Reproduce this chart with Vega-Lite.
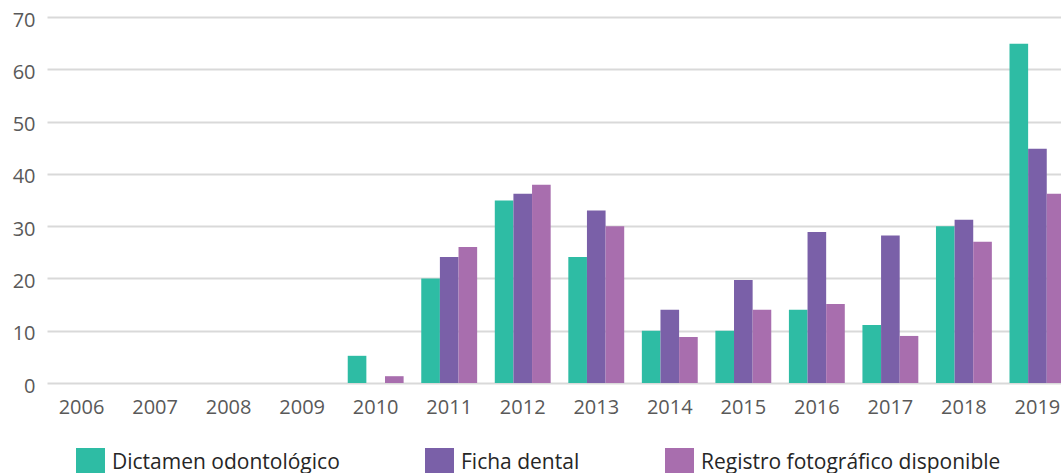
{
  "$schema": "https://vega.github.io/schema/vega-lite/v6.json",
  "autosize": {"type": "none"},
  "padding": {"left": 47, "top": 17, "right": 18, "bottom": 90},
  "width": 996,
  "height": 366,
  "background": "white",
  "config": {
    "view": {"stroke": null},
    "font": "Open Sans"
  },
  "data": {
    "values": [
      {"year": "2006", "serie": "Dictamen odontológico", "value": 0},
      {"year": "2006", "serie": "Ficha dental", "value": 0},
      {"year": "2006", "serie": "Registro fotográfico disponible", "value": 0},
      {"year": "2007", "serie": "Dictamen odontológico", "value": 0},
      {"year": "2007", "serie": "Ficha dental", "value": 0},
      {"year": "2007", "serie": "Registro fotográfico disponible", "value": 0},
      {"year": "2008", "serie": "Dictamen odontológico", "value": 0},
      {"year": "2008", "serie": "Ficha dental", "value": 0},
      {"year": "2008", "serie": "Registro fotográfico disponible", "value": 0},
      {"year": "2009", "serie": "Dictamen odontológico", "value": 0},
      {"year": "2009", "serie": "Ficha dental", "value": 0},
      {"year": "2009", "serie": "Registro fotográfico disponible", "value": 0},
      {"year": "2010", "serie": "Dictamen odontológico", "value": 5.2},
      {"year": "2010", "serie": "Ficha dental", "value": 0},
      {"year": "2010", "serie": "Registro fotográfico disponible", "value": 1.3},
      {"year": "2011", "serie": "Dictamen odontológico", "value": 20},
      {"year": "2011", "serie": "Ficha dental", "value": 24.1},
      {"year": "2011", "serie": "Registro fotográfico disponible", "value": 26},
      {"year": "2012", "serie": "Dictamen odontológico", "value": 34.9},
      {"year": "2012", "serie": "Ficha dental", "value": 36.2},
      {"year": "2012", "serie": "Registro fotográfico disponible", "value": 37.9},
      {"year": "2013", "serie": "Dictamen odontológico", "value": 24.1},
      {"year": "2013", "serie": "Ficha dental", "value": 33},
      {"year": "2013", "serie": "Registro fotográfico disponible", "value": 30},
      {"year": "2014", "serie": "Dictamen odontológico", "value": 10},
      {"year": "2014", "serie": "Ficha dental", "value": 14},
      {"year": "2014", "serie": "Registro fotográfico disponible", "value": 8.8},
      {"year": "2015", "serie": "Dictamen odontológico", "value": 10},
      {"year": "2015", "serie": "Ficha dental", "value": 19.7},
      {"year": "2015", "serie": "Registro fotográfico disponible", "value": 14},
      {"year": "2016", "serie": "Dictamen odontológico", "value": 14},
      {"year": "2016", "serie": "Ficha dental", "value": 28.9},
      {"year": "2016", "serie": "Registro fotográfico disponible", "value": 15.1},
      {"year": "2017", "serie": "Dictamen odontológico", "value": 11.1},
      {"year": "2017", "serie": "Ficha dental", "value": 28.2},
      {"year": "2017", "serie": "Registro fotográfico disponible", "value": 9},
      {"year": "2018", "serie": "Dictamen odontológico", "value": 30},
      {"year": "2018", "serie": "Ficha dental", "value": 31.2},
      {"year": "2018", "serie": "Registro fotográfico disponible", "value": 27},
      {"year": "2019", "serie": "Dictamen odontológico", "value": 64.9},
      {"year": "2019", "serie": "Ficha dental", "value": 44.8},
      {"year": "2019", "serie": "Registro fotográfico disponible", "value": 36.2}
    ]
  },
  "mark": {"type": "bar"},
  "encoding": {
    "x": {
      "field": "year",
      "type": "nominal",
      "scale": {"range": [0, 1025], "paddingInner": 0.24, "paddingOuter": 0.09},
      "axis": {
        "title": null,
        "labelAngle": 0,
        "domain": false,
        "ticks": false,
        "labelFontSize": 20,
        "labelColor": "#595959",
        "labelPadding": 14,
        "labelFont": "Open Sans"
      }
    },
    "xOffset": {
      "field": "serie",
      "type": "nominal",
      "sort": ["Dictamen odontológico", "Ficha dental", "Registro fotográfico disponible"]
    },
    "y": {
      "field": "value",
      "type": "quantitative",
      "scale": {"domain": [0, 70], "nice": false},
      "axis": {
        "title": null,
        "values": [0, 10, 20, 30, 40, 50, 60, 70],
        "domain": false,
        "ticks": false,
        "grid": true,
        "gridColor": "#D9D9D9",
        "gridWidth": 2,
        "labelFontSize": 20,
        "labelColor": "#595959",
        "labelPadding": 12,
        "labelOffset": 3,
        "labelFont": "Open Sans"
      }
    },
    "color": {
      "field": "serie",
      "type": "nominal",
      "sort": ["Dictamen odontológico", "Ficha dental", "Registro fotográfico disponible"],
      "scale": {
        "domain": ["Dictamen odontológico", "Ficha dental", "Registro fotográfico disponible"],
        "range": ["#2EBCA4", "#7A60A8", "#A86EAE"]
      },
      "legend": {
        "title": null,
        "orient": "none",
        "legendX": 29,
        "legendY": 431,
        "direction": "horizontal",
        "symbolType": "square",
        "symbolSize": 841,
        "symbolStrokeWidth": 0,
        "symbolOpacity": 1,
        "labelFontSize": 21,
        "labelColor": "#262626",
        "labelOffset": 7,
        "columnPadding": 85,
        "labelLimit": 400
      }
    }
  }
}
